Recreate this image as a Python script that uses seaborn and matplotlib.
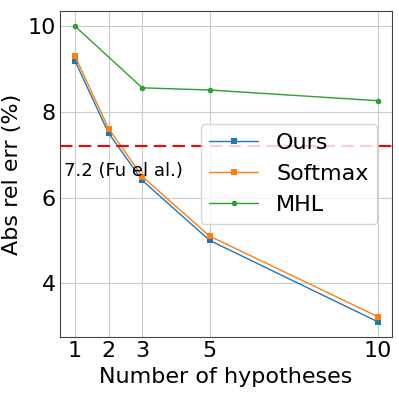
import numpy as np
import matplotlib
matplotlib.use("Agg")
import matplotlib.pyplot as plt
import pandas as pd
import seaborn as sns

# data
hyp = [1, 2, 3, 5, 10]
ours = [9.19, 7.5, 6.4, 5.0, 3.1]
softmax = [9.3, 7.61, 6.49, 5.1, 3.22]
mhl_hyp = [1, 3, 5, 10]
mhl = [10.0, 8.56, 8.51, 8.26]
fu_value = 7.2

sns.set_style("whitegrid")
plt.rcParams['font.family'] = ['DejaVu Sans']
plt.rcParams['text.color'] = 'black'
plt.rcParams['axes.labelcolor'] = 'black'
plt.rcParams['xtick.color'] = 'black'
plt.rcParams['ytick.color'] = 'black'

fig, ax = plt.subplots(figsize=(3.99, 3.99), dpi=100)
fig.subplots_adjust(left=0.15, right=0.982, top=0.972, bottom=0.155)

sns.lineplot(x=hyp, y=ours, marker='s', markersize=4, markeredgewidth=0,
             color='#1f77b4', label='Ours', ax=ax, linewidth=1)
sns.lineplot(x=hyp, y=softmax, marker='s', markersize=4, markeredgewidth=0,
             color='#ff7f0e', label='Softmax', ax=ax, linewidth=1)
sns.lineplot(x=mhl_hyp, y=mhl, marker='o', markersize=4, markeredgewidth=0,
             color='#2ca02c', label='MHL', ax=ax, linewidth=1)

ax.axhline(fu_value, color='red', linestyle='--', linewidth=1.5, dashes=(6, 3))
ax.text(0.68, 6.62, '7.2 (Fu el al.)', fontsize=13, va='center', ha='left')

ax.set_xticks(hyp)
ax.set_yticks([4, 6, 8, 10])
ax.set_xlim(0.55, 10.42)
ax.set_ylim(2.74, 10.35)
ax.tick_params(labelsize=16, length=0, pad=3)
ax.set_xlabel('Number of hypotheses', fontsize=16)
ax.set_ylabel('Abs rel err (%)', fontsize=16)
for s in ['left', 'bottom', 'right', 'top']:
    ax.spines[s].set_color('#444444')
    ax.spines[s].set_linewidth(0.8)

leg = ax.legend(loc='center right', fontsize=16, bbox_to_anchor=(0.99, 0.5),
                handlelength=2.2)

plt.savefig('out.png', dpi=100)
